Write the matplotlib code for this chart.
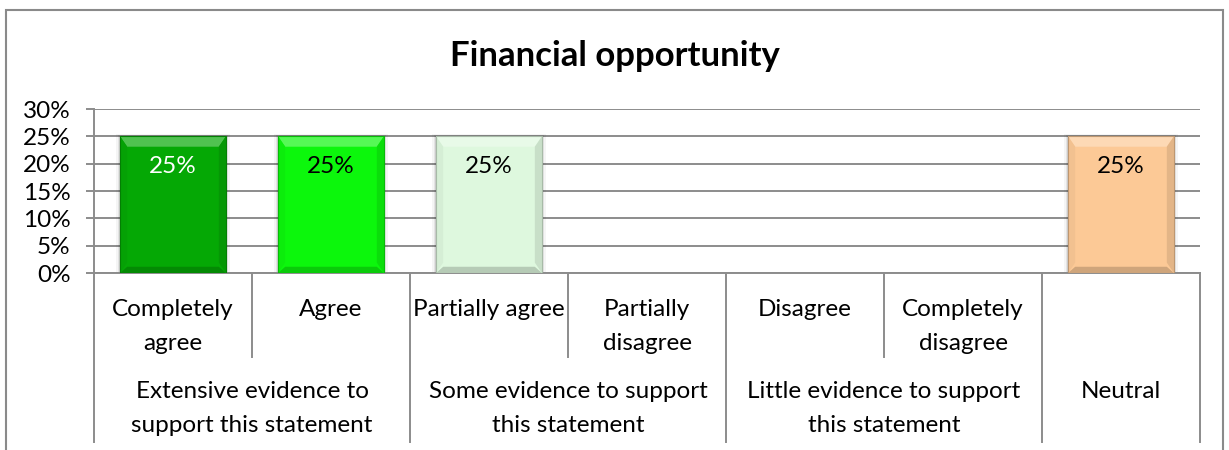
import matplotlib
matplotlib.use("Agg")
import matplotlib.pyplot as plt
import matplotlib.colors as mcolors
from matplotlib.patches import Polygon, Rectangle

# ---- data -------------------------------------------------------------
title = "Financial opportunity"
categories = ["Completely\nagree", "Agree", "Partially agree", "Partially\ndisagree",
              "Disagree", "Completely\ndisagree", ""]
groups = ["Extensive evidence to\nsupport this statement",
          "Some evidence to support\nthis statement",
          "Little evidence to support\nthis statement",
          "Neutral"]
group_sizes = [2, 2, 2, 1]
values = [25, 25, 25, 0, 0, 0, 25]
bar_colors = ["#05A805", "#0CF70C", "#DEF8DE", "#DEF8DE", "#DEF8DE", "#DEF8DE", "#FCC996"]
label_colors = ["white", "black", "black", "black", "black", "black", "black"]
yticks = [0, 5, 10, 15, 20, 25, 30]
ytick_labels = [f"{t}%" for t in yticks]

# ---- style --------------------------------------------------------------
FONT = ["Lato", "DejaVu Sans"]
plt.rcParams["font.family"] = FONT
GRID = "#8c8c8c"
W, H = 1229, 450
FS = 17.5

fig = plt.figure(figsize=(W / 100, H / 100), dpi=100)
fig.patch.set_facecolor("white")

# plot area in pixel terms: x 94..1200, y 109..273
ax_l, ax_r, ax_t, ax_b = 94, 1200, 109, 273
ax = fig.add_axes([ax_l / W, 1 - ax_b / H, (ax_r - ax_l) / W, (ax_b - ax_t) / H])
ax.set_xlim(-0.5, len(categories) - 0.5)
ax.set_ylim(0, 30)


def py(pix):
    """pixel row -> axes-fraction y (relative to plot area)"""
    return (ax_b - pix) / (ax_b - ax_t)


for s in ["top", "right"]:
    ax.spines[s].set_visible(False)
for s in ["bottom", "left"]:
    ax.spines[s].set_color(GRID)
    ax.spines[s].set_linewidth(1.4)
ax.set_yticks(yticks)
ax.set_yticklabels(ytick_labels, fontsize=FS)
ax.tick_params(axis="y", length=6, width=1.4, color=GRID, pad=11)
ax.set_xticks([])
ax.yaxis.grid(True, color=GRID, linewidth=1.4)
ax.set_axisbelow(True)


def mix(c, other, t):
    a = mcolors.to_rgb(c)
    b = mcolors.to_rgb(other)
    return tuple(a[i] * (1 - t) + b[i] * t for i in range(3))


# ---- bars with bevelled look ---------------------------------------------
bw = 0.67
bars = ax.bar(range(len(values)), values, width=bw, color=bar_colors,
              edgecolor="none", zorder=3)
dx, dy = 0.045, 1.9
for i, (rect, v) in enumerate(zip(bars, values)):
    if v <= 0:
        rect.set_visible(False)
        continue
    c = bar_colors[i]
    x0 = rect.get_x()
    x1 = x0 + rect.get_width()
    # soft shadow
    for k, a in enumerate([0.10, 0.07, 0.04]):
        off = 0.008 * (k + 1)
        ax.add_patch(Rectangle((x0 - off, 0.0), (x1 - x0) + 2 * off, v + 0.15 * (k + 1),
                               facecolor="black", alpha=a, edgecolor="none", zorder=2.5))
    top = Polygon([(x0, v), (x1, v), (x1 - dx, v - dy), (x0 + dx, v - dy)],
                  closed=True, facecolor=mix(c, "white", 0.30), edgecolor="none", zorder=4)
    left = Polygon([(x0, 0), (x0, v), (x0 + dx, v - dy), (x0 + dx, dy)],
                   closed=True, facecolor=mix(c, "black", 0.04), edgecolor="none", zorder=4)
    right = Polygon([(x1, 0), (x1, v), (x1 - dx, v - dy), (x1 - dx, dy)],
                    closed=True, facecolor=mix(c, "black", 0.10), edgecolor="none", zorder=4)
    bottom = Polygon([(x0, 0), (x1, 0), (x1 - dx, dy * 0.6), (x0 + dx, dy * 0.6)],
                     closed=True, facecolor=mix(c, "black", 0.18), edgecolor="none", zorder=4)
    for p in (top, left, right, bottom):
        ax.add_patch(p)
    ax.add_patch(Rectangle((x0, 0), x1 - x0, v, facecolor="none",
                           edgecolor=mix(c, "black", 0.25), linewidth=0.8, zorder=5))
    ax.text(rect.get_x() + rect.get_width() / 2, v - 5.6, f"{v}%",
            ha="center", va="center", fontsize=FS, color=label_colors[i], zorder=6)

# ---- two-level category axis ----------------------------------------------
xt = ax.get_xaxis_transform()
line_kw = dict(color=GRID, linewidth=1.4, transform=xt, clip_on=False)
row1 = [309, 343]
row2 = [392, 426]


def put_lines(x, text, rows):
    for j, line in enumerate(text.split("\n")):
        ax.text(x, py(rows[j]), line, ha="center", va="center", fontsize=FS,
                transform=xt, clip_on=False)


for i, cat in enumerate(categories):
    if cat:
        put_lines(i, cat, row1)

start = 0
bounds = [-0.5]
for g, n in zip(groups, group_sizes):
    centre = start + (n - 1) / 2
    put_lines(centre, g, row2)
    # inner separators only reach the first label row
    for k in range(1, n):
        xs = start + k - 0.5
        ax.plot([xs, xs], [0, py(357)], **line_kw)
    start += n
    bounds.append(start - 0.5)
for xs in bounds:
    ax.plot([xs, xs], [0, py(442)], **line_kw)

# ---- title and frame --------------------------------------------------------
fig.text(0.5, 1 - 56 / H, title, ha="center", va="center", fontsize=25,
         fontweight="bold")
fig.add_artist(Rectangle((5.5 / W, -0.05), (1223 - 5.5) / W, 1.05 - 10 / H,
                         transform=fig.transFigure, fill=False,
                         edgecolor="#8a8a8a", linewidth=1.5))

fig.savefig("out.png", dpi=100)
